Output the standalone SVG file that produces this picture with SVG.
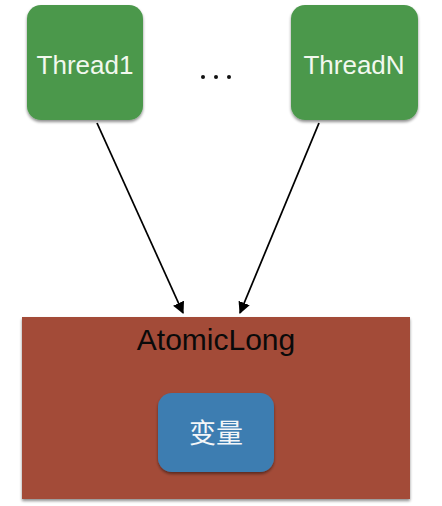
<svg xmlns="http://www.w3.org/2000/svg" width="442" height="506" viewBox="0 0 442 506">
<defs>
<filter id="sh" x="-10%" y="-10%" width="130%" height="130%">
<feGaussianBlur in="SourceAlpha" stdDeviation="1.5"/>
<feOffset dx="0" dy="1.5"/>
<feComponentTransfer><feFuncA type="linear" slope="0.45"/></feComponentTransfer>
<feMerge><feMergeNode/><feMergeNode in="SourceGraphic"/></feMerge>
</filter>
<marker id="ah" viewBox="0 0 10 10" refX="9" refY="5" markerWidth="12" markerHeight="12" markerUnits="userSpaceOnUse" orient="auto">
<path d="M0,0 L10,5 L0,10 z" fill="#000"/>
</marker>
</defs>
<style>
.thread{fill:#4C984C;filter:url(#sh)}
.lbl{font-family:"Helvetica Neue","Liberation Sans",Arial,sans-serif;text-anchor:middle}
.wt{fill:#F2F8EE;font-size:26px}
.conn{stroke:#000;stroke-width:1.8;fill:none;marker-end:url(#ah)}
</style>
<rect width="442" height="506" fill="#fff"/>
<g id="atomiclong">
<rect x="22" y="317" width="388" height="182" fill="#A34C39" filter="url(#sh)"/>
<text class="lbl" x="216" y="350" font-size="30" fill="#0a0a0a">AtomicLong</text>
</g>
<g id="var">
<rect x="158" y="393" width="116" height="79" rx="14" fill="#3E7DB1" filter="url(#sh)"/>
<text x="216" y="443" font-size="27" fill="#F4F6F8" text-anchor="middle" font-family="'Noto Sans CJK SC','Noto Sans CJK JP',sans-serif">变量</text>
</g>
<g id="thread1">
<rect class="thread" x="27" y="5" width="116" height="115" rx="14"/>
<text class="lbl wt" x="85" y="74">Thread1</text>
</g>
<g id="threadN">
<rect class="thread" x="291" y="5" width="127" height="115" rx="14"/>
<text class="lbl wt" x="354" y="74">ThreadN</text>
</g>
<g id="dots" fill="#111">
<circle cx="203" cy="77" r="2"/>
<circle cx="216" cy="77" r="2"/>
<circle cx="229" cy="77" r="2"/>
</g>
<g id="connectors">
<line class="conn" x1="97" y1="123" x2="183" y2="313"/>
<line class="conn" x1="319" y1="123" x2="240" y2="313"/>
</g>
</svg>
